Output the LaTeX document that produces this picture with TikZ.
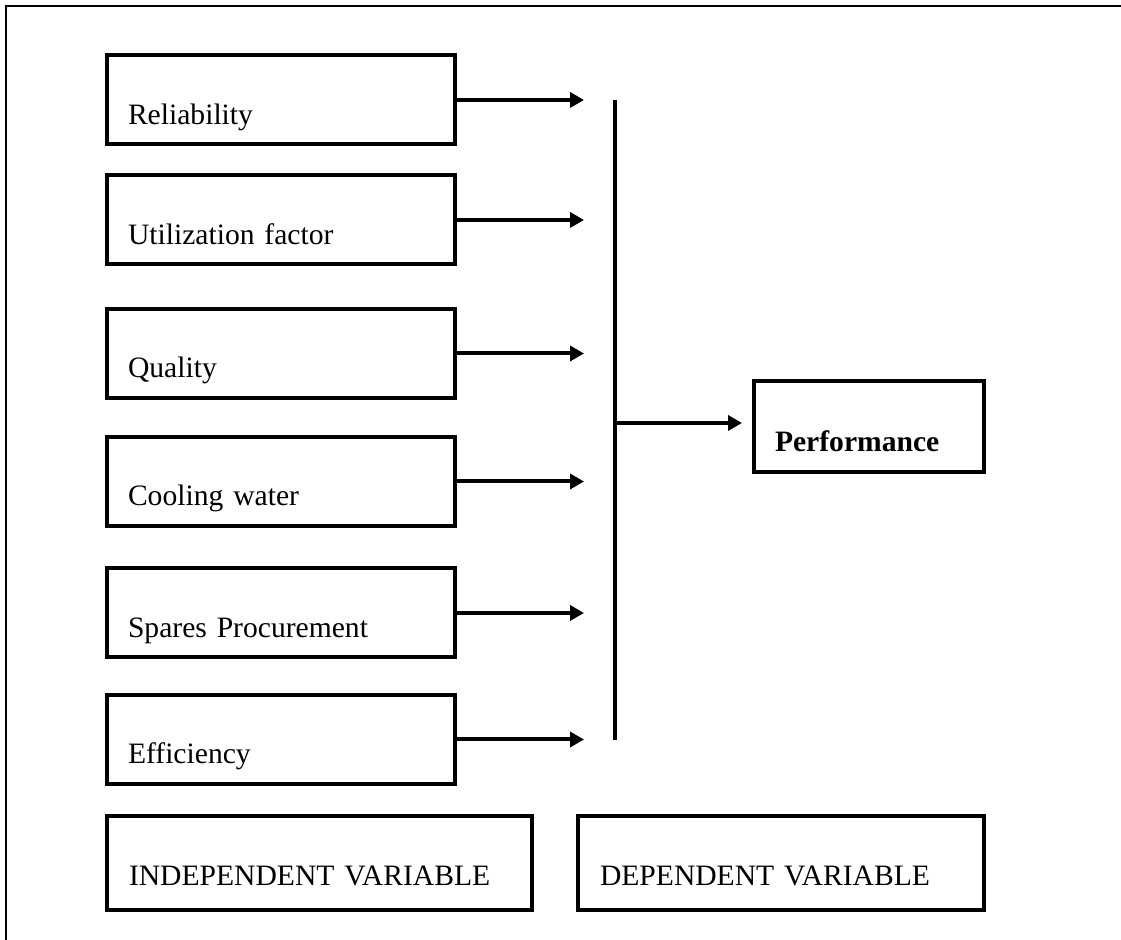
\documentclass[tikz,border=0pt]{standalone}
\usepackage{fontspec}
\setmainfont{Liberation Serif}
\usepackage{tikz}
\usetikzlibrary{arrows.meta, positioning, calc}

\newcommand{\diagfont}{\fontsize{14.8}{17}\selectfont}

\tikzset{
  factor/.style={draw, line width=2pt, inner xsep=10.5pt, inner ysep=0pt,
    text width=153pt, align=left, text height=34.5pt, text depth=10pt},
  result/.style={factor, text width=94pt, text height=35.5pt, font=\diagfont\bfseries},
  legendbox/.style={factor, inner xsep=11pt, text height=35pt, text depth=12pt},
  flow/.style={-{Triangle[length=7pt,width=7.5pt]}, line width=2pt, shorten >=15.5pt}
}

\begin{document}
\begin{tikzpicture}[x=0.5pt, y=-0.5pt, font=\diagfont]
    \useasboundingbox (0,0) rectangle (1121,940);

    % page frame (top and left only)
    \draw[line width=1.2pt] (1121,6) -- (6,6) -- (6,940);

    % independent variables
    \node[factor] (rel)   at (281,100)   {Reliability};
    \node[factor] (util)  at (281,220)   {Utilization factor};
    \node[factor] (qual)  at (281,353.5) {Quality};
    \node[factor] (cool)  at (281,481.5) {Cooling water};
    \node[factor] (spare) at (281,613)   {Spares Procurement};
    \node[factor] (eff)   at (281,739.5) {Efficiency};

    % collecting bar
    \coordinate (bustop) at (615,100);
    \coordinate (busbot) at (615,740);
    \coordinate (busmid) at (615,423);
    \draw[line width=2pt] (bustop) -- (busbot);

    \draw[flow] (rel.east)   -- (rel.east -| bustop);
    \draw[flow] (util.east)  -- (util.east -| bustop);
    \draw[flow] (qual.east)  -- (qual.east -| bustop);
    \draw[flow] (cool.east)  -- (cool.east -| bustop);
    \draw[flow] (spare.east) -- (spare.east -| bustop);
    \draw[flow] (eff.east)   -- (eff.east -| bustop);

    % dependent variable
    \node[result] (perf) at (869,426.5) {Performance};
    \draw[flow, shorten >=5pt] (busmid) -- (busmid -| perf.west);

    % legend boxes
    \node[legendbox, text width=190.5pt] (indep) at (319.5,863) {INDEPENDENT VARIABLE};
    \node[legendbox, text width=181pt] (dep) at (781,863) {DEPENDENT VARIABLE};

\end{tikzpicture}
\end{document}
